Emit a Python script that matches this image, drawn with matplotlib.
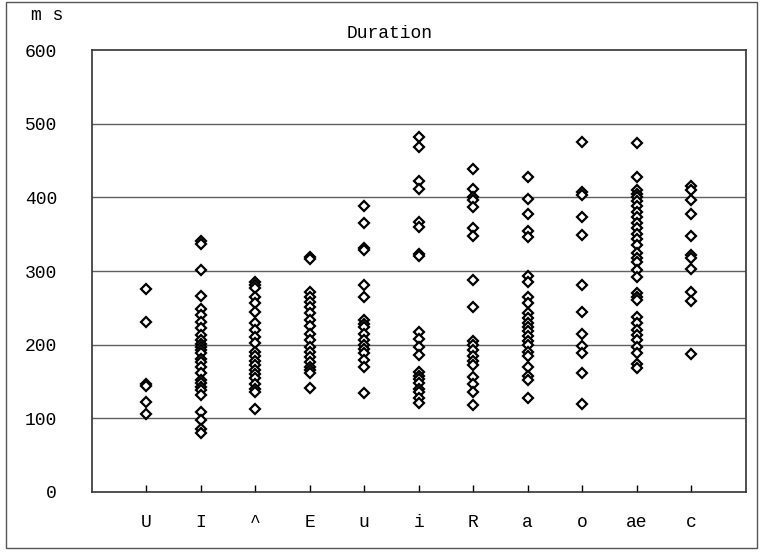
# duration scatter per vowel category (open diamonds on a grey grid)

import matplotlib
matplotlib.use("Agg")
import matplotlib.pyplot as plt
from matplotlib.patches import Rectangle

categories = ["U", "I", "^", "E", "u", "i", "R", "a", "o", "ae", "c"]

dur_U = [276, 231, 147, 144, 122, 106]
dur_I = [341, 337, 301, 266, 249, 240, 231, 222, 213, 206, 201, 197, 193, 188,
         181, 176, 170, 161, 152, 148, 143, 138, 132, 108, 98, 86, 80]
dur_hat = [285, 281, 277, 265, 256, 245, 229, 220, 211, 202, 190, 184, 178, 172,
           166, 160, 155, 147, 140, 135, 113]
dur_E = [319, 316, 271, 265, 258, 251, 243, 234, 225, 215, 206, 197, 190, 183,
         176, 170, 165, 161, 141]
dur_u = [388, 365, 331, 329, 281, 265, 233, 228, 224, 215, 206, 200, 194, 188,
         179, 170, 134]
dur_i = [482, 469, 423, 412, 366, 360, 323, 320, 217, 208, 197, 186, 163, 158,
         153, 148, 140, 135, 127, 121]
dur_R = [439, 411, 400, 396, 387, 359, 348, 288, 251, 205, 199, 193, 185, 178,
         172, 156, 147, 136, 118]
dur_a = [428, 398, 377, 355, 346, 293, 285, 265, 256, 243, 236, 230, 224, 218,
         212, 205, 199, 190, 184, 170, 157, 152, 127]
dur_o = [475, 407, 403, 373, 349, 281, 245, 215, 198, 189, 161, 119]
dur_ae = [474, 428, 410, 405, 400, 395, 388, 380, 373, 365, 358, 350, 343, 335,
          325, 318, 312, 302, 292, 270, 265, 260, 238, 230, 220, 213, 206, 197,
          188, 174, 168]
dur_c = [415, 410, 397, 377, 347, 322, 318, 303, 272, 259, 187]

y_ticks = [0, 100, 200, 300, 400, 500, 600]

all_durations = [dur_U, dur_I, dur_hat, dur_E, dur_u, dur_i, dur_R, dur_a,
                 dur_o, dur_ae, dur_c]

font = "Liberation Mono"

fig = plt.figure(figsize=(7.64, 5.52), dpi=100)
ax = fig.add_axes([0.120, 0.109, 0.856, 0.800])

for pos, vals in enumerate(all_durations, start=1):
    ax.plot([pos] * len(vals), vals, linestyle="none", marker="D",
            markersize=5.6, markerfacecolor="white", markeredgecolor="black",
            markeredgewidth=1.6, zorder=3)

ax.set_xlim(0, 12)
ax.set_ylim(0, 600)
ax.set_yticks(y_ticks)
ax.set_yticklabels([str(t) for t in y_ticks], fontfamily=font, fontsize=13)
ax.set_xticks(range(1, len(categories) + 1))
ax.set_xticklabels(categories, fontfamily=font, fontsize=13)

for t in y_ticks[1:-1]:
    ax.axhline(t, color="#606060", linewidth=1.0, zorder=1)

ax.tick_params(axis="x", direction="in", length=5, width=1, pad=16)
ax.tick_params(axis="y", length=0, pad=25)
for side in ax.spines.values():
    side.set_color("#333333")
    side.set_linewidth(1.2)

fig.text(0.510, 0.940, "Duration", ha="center", va="center",
         fontfamily=font, fontsize=13)
fig.text(0.062, 0.972, "m s", ha="center", va="center",
         fontfamily=font, fontsize=13)

# outer frame round the whole chart
fig.add_artist(Rectangle((0.008, 0.007), 0.983, 0.989, transform=fig.transFigure,
                         fill=False, edgecolor="#555555", linewidth=1.0))

fig.savefig("out.png", dpi=100)
plt.close(fig)
